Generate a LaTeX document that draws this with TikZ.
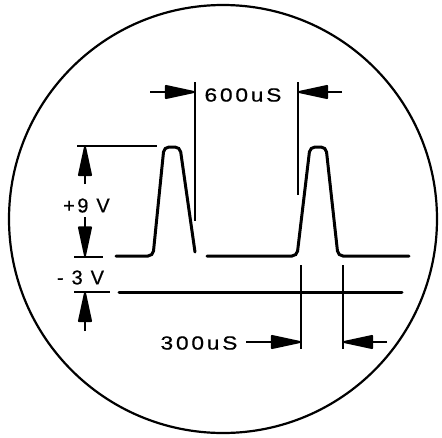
\documentclass[tikz,border=0pt]{standalone}
\usepackage{fontspec}
\setmainfont{Liberation Sans}
\usetikzlibrary{arrows.meta}
\newfontfamily\lblfont[LetterSpace=12,FakeBold=0.6]{Liberation Sans}
\tikzset{
  trace/.style={line width=3pt, rounded corners=5pt, line cap=round},
  dimline/.style={line width=2pt},
  dimarrow/.style={line width=2pt, -{Triangle[length=34pt,width=14pt,round]}},
  lbl/.style={font=\lblfont\fontsize{19}{19}\selectfont, inner sep=0pt, xscale=1.2, transform shape},
  vlbl/.style={font=\lblfont\fontsize{20}{20}\selectfont, inner sep=0pt},
  screen/.style={line width=2.2pt}
}
\begin{document}
\begin{tikzpicture}[x=1pt,y=-1pt]
\useasboundingbox (0,0) rectangle (442,437);
% screen outline
\draw[screen] (223,219) circle [radius=214];
% traces
\draw[trace] (116,256) -- (153,256) -- (164,147) -- (180,147) -- (195,252);
\draw[trace] (207,256) -- (297,256) -- (310,147) -- (326,147) -- (338,256) -- (409,256);
\draw[trace] (119,292) -- (402,292);
% 600uS dimension
\coordinate (a1) at (195,82);
\coordinate (a1b) at (195,221);
\coordinate (a2) at (298,82);
\coordinate (a2b) at (298,195);
\draw[dimline] (a1) -- (a1b);
\draw[dimline] (a2) -- (a2b);
\coordinate (t1) at (150,92);
\coordinate (h1) at (195,92);
\coordinate (t2) at (342,92);
\coordinate (h2) at (298,92);
\draw[dimarrow] (t1) -- (h1);
\draw[dimarrow] (t2) -- (h2);
\node[lbl] (l600) at (243,95) {600uS};
% 300uS dimension
\coordinate (b1) at (301,265);
\coordinate (b1b) at (301,349);
\coordinate (b2) at (343,265);
\coordinate (b2b) at (343,349);
\draw[dimline] (b1) -- (b1b);
\draw[dimline] (b2) -- (b2b);
\node[lbl] (l300) at (199,343) {300uS};
\coordinate (t3) at (246,342);
\coordinate (h3) at (301,342);
\coordinate (t4) at (387,342);
\coordinate (h4) at (343,342);
\draw[dimarrow] (t3) -- (h3);
\draw[dimarrow] (t4) -- (h4);
% voltage dimensions
\coordinate (v1) at (77,146);
\coordinate (v1b) at (157,146);
\draw[dimline] (v1) -- (v1b);
\coordinate (v2) at (74,256.5);
\coordinate (v2b) at (103,256.5);
\draw[dimline] (v2) -- (v2b);
\coordinate (v3) at (74,292);
\coordinate (v3b) at (110,292);
\draw[dimline] (v3) -- (v3b);
\coordinate (u1) at (85,184);
\coordinate (u1h) at (85,146);
\draw[dimarrow] (u1) -- (u1h);
\coordinate (d1) at (85,217);
\coordinate (d1h) at (85,256.5);
\draw[dimarrow] (d1) -- (d1h);
\coordinate (u2) at (85,331);
\coordinate (u2h) at (85,292);
\draw[dimarrow] (u2) -- (u2h);
\node[vlbl] (l9) at (86.5,205.5) {+9 V};
\node[vlbl] (l3) at (80.5,277.5) {- 3 V};
\end{tikzpicture}
\end{document}
